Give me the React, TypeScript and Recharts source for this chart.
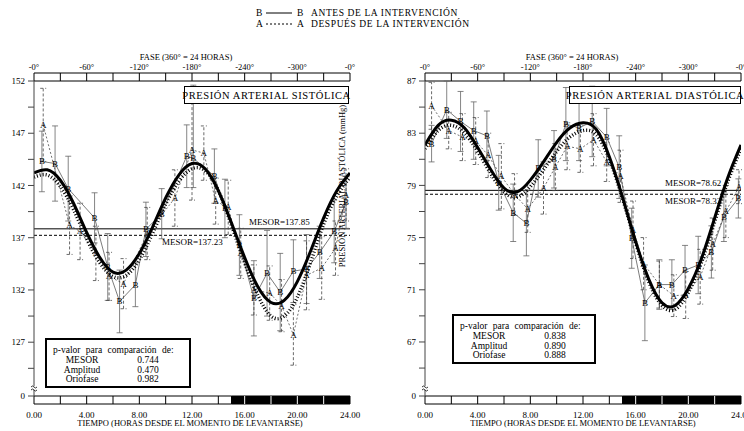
import { ComposedChart, Line, XAxis, YAxis, ErrorBar, ReferenceLine, ReferenceArea } from "recharts";

const SERIF = "Liberation Serif, serif";

// fitted curves at every hour
const FIT_HOURS = [0, 1, 2, 3, 4, 5, 6, 7, 8, 9, 10, 11, 12, 13, 14, 15, 16, 17, 18, 19, 20, 21, 22, 23, 24];
const SYS_FIT_B = [143.2, 143.5, 142.5, 140.3, 137.5, 135.1, 133.7, 133.9, 135.5, 138.0, 140.8, 143.0, 144.1, 143.6, 141.5, 138.4, 135.1, 132.3, 130.8, 131.0, 132.8, 135.7, 138.9, 141.5, 143.2];
const SYS_FIT_A = [142.8, 143.0, 141.9, 139.7, 136.9, 134.6, 133.3, 133.4, 134.9, 137.4, 140.2, 142.4, 143.6, 143.4, 141.5, 138.2, 134.6, 131.5, 129.5, 129.5, 131.3, 134.6, 138.3, 141.0, 142.8];
const DIA_FIT_B = [82.1, 83.6, 84.0, 83.4, 81.9, 80.2, 78.8, 78.5, 79.4, 80.8, 82.3, 83.4, 83.8, 83.3, 81.2, 78.1, 74.7, 71.8, 70.0, 69.8, 71.1, 73.4, 76.5, 79.6, 82.1];
const DIA_FIT_A = [81.8, 83.2, 83.6, 83.0, 81.6, 79.9, 78.5, 78.1, 78.9, 80.2, 81.6, 82.7, 83.2, 82.9, 81.0, 78.0, 74.6, 71.6, 69.8, 69.5, 70.8, 73.1, 76.2, 79.3, 81.8];

// hourly means +- error, systolic
const SYS_B_HOURS = [0.6, 1.6, 2.6, 4.6, 5.6, 6.5, 7.7, 8.5, 9.7, 11.6, 12.1, 13.7, 14.5, 15.6, 16.7, 17.7, 18.7, 19.7, 20.7, 21.7, 22.8, 23.7];
const SYS_B_MEANS = [144.3, 144.1, 141.7, 138.9, 134.2, 130.9, 132.5, 137.8, 139.3, 144.8, 144.6, 142.9, 139.8, 136.3, 131.2, 133.6, 131.8, 133.8, 134.0, 135.6, 137.6, 140.4];
const SYS_B_ERR: (number | number[])[] = [2.9, 3.6, 3.1, 2.4, 3.2, 3.0, 2.1, 2.6, 2.4, 3.0, [2.8, 7.0], 2.6, 2.8, 2.9, 3.6, 4.1, 3.7, 3.0, 3.3, 2.5, 3.0, 2.5];
const SYS_A_HOURS = [0.7, 2.7, 3.5, 4.7, 5.7, 6.8, 8.6, 10.7, 12.0, 12.9, 13.8, 14.75, 15.7, 16.7, 17.9, 18.8, 19.7, 20.7, 21.85, 22.9, 23.7];
const SYS_A_MEANS = [147.8, 138.2, 137.6, 135.5, 133.3, 132.6, 137.4, 140.8, 145.4, 145.1, 140.5, 139.9, 135.5, 132.0, 131.7, 130.5, 127.7, 133.4, 134.1, 136.0, 141.1];
const SYS_A_ERR = [3.5, 2.8, 2.7, 2.6, 2.3, 2.4, 2.5, 2.7, 4.8, 2.6, 2.2, 2.6, 2.4, 2.4, 2.6, 2.5, 2.9, 3.3, 3.0, 2.6, 2.5];

// hourly means +- error, diastolic
const DIA_B_HOURS = [0.5, 1.65, 2.7, 3.7, 4.7, 5.6, 6.7, 7.7, 8.6, 9.8, 10.7, 11.7, 12.7, 13.8, 14.75, 15.7, 16.7, 17.8, 18.75, 19.75, 20.75, 21.75, 22.7, 23.8];
const DIA_B_MEANS = [82.2, 84.8, 83.9, 83.2, 82.8, 79.2, 76.9, 76.1, 80.3, 81.0, 83.7, 83.4, 83.9, 82.7, 80.4, 74.95, 70.0, 71.4, 71.4, 72.5, 72.9, 73.9, 76.6, 78.0];
const DIA_B_ERR = [1.4, 2.2, 2.3, 2.2, 1.9, 2.1, 2.2, 2.5, 2.2, 2.2, 2.8, 2.5, 2.7, 2.2, 2.4, 2.3, 2.9, 1.9, 1.9, 1.9, 2.2, 2.0, 1.9, 1.5];
const DIA_A_HOURS = [0.5, 1.8, 2.85, 3.85, 4.8, 5.8, 6.8, 7.8, 9.0, 9.9, 10.8, 11.8, 12.8, 13.8, 14.85, 15.8, 16.6, 17.8, 18.9, 19.8, 20.9, 21.85, 22.85, 23.85];
const DIA_A_MEANS = [85.1, 83.2, 82.7, 82.4, 81.3, 79.7, 78.3, 77.2, 78.8, 80.4, 82.0, 81.8, 82.5, 80.8, 79.7, 75.6, 73.0, 71.4, 70.55, 70.6, 72.0, 74.5, 77.0, 78.9];
const DIA_A_ERR = [1.8, 1.4, 1.8, 1.8, 1.7, 2.5, 1.6, 1.8, 2.0, 1.8, 1.8, 1.8, 2.0, 1.5, 2.0, 2.2, 2.0, 1.8, 1.6, 1.8, 2.1, 2.0, 2.0, 1.3];

const SYS_Y_TICKS = [121.85, 124.5, 127, 129.5, 132, 134.5, 137, 139.5, 142, 144.5, 147, 149.5, 152];
const SYS_Y_MAJOR = [127, 132, 137, 142, 147, 152];
const DIA_Y_TICKS = [62.86, 65, 67, 69, 71, 73, 75, 77, 79, 81, 83, 85, 87];
const DIA_Y_MAJOR = [67, 71, 75, 79, 83, 87];

const TIME_TICKS = [0, 4, 8, 12, 16, 20, 24];
const PHASE_LABELS = ["-0°", "-60°", "-120°", "-180°", "-240°", "-300°", "-0°"];
const BAR_TICKS = [2, 4, 6, 8, 10, 12, 14, 16, 18, 20, 22];
const NIGHT_START = 15;

const PLOT_TOP = 81;
const PLOT_H = 315;
const PLOT_W = 316;

const toPts = (hours: number[], means: number[], errs: (number | number[])[]) =>
  hours.map((h, i) => ({ h, v: means[i], e: errs[i] }));
const toFit = (vals: number[]) => FIT_HOURS.map((h, i) => ({ h, v: vals[i] }));

const PANELS = [
  {
    left: 0, yAxisWidth: 34, marginRight: 22,
    yMin: 121.85, yMax: 152, yTicks: SYS_Y_TICKS, yMajor: SYS_Y_MAJOR,
    fitB: toFit(SYS_FIT_B), fitA: toFit(SYS_FIT_A),
    ptsB: toPts(SYS_B_HOURS, SYS_B_MEANS, SYS_B_ERR), ptsA: toPts(SYS_A_HOURS, SYS_A_MEANS, SYS_A_ERR),
    mesorB: 137.85, mesorA: 137.23,
  },
  {
    left: 372, yAxisWidth: 53, marginRight: 3,
    yMin: 62.86, yMax: 87, yTicks: DIA_Y_TICKS, yMajor: DIA_Y_MAJOR,
    fitB: toFit(DIA_FIT_B), fitA: toFit(DIA_FIT_A),
    ptsB: toPts(DIA_B_HOURS, DIA_B_MEANS, DIA_B_ERR), ptsA: toPts(DIA_A_HOURS, DIA_A_MEANS, DIA_A_ERR),
    mesorB: 78.62, mesorA: 78.32,
  },
];

const TICK = { fontSize: 9, fontFamily: SERIF, fill: "#000" };

const letterDot = (ch: string) => (p: any) => (
  <text key={`${ch}-${p.index}`} x={p.cx} y={p.cy + 3} textAnchor="middle" fontSize={9} style={{ fontFamily: SERIF }} fill="#000">
    {ch}
  </text>
);

function Panel({ cfg }: { cfg: (typeof PANELS)[number] }) {
  const unitsPerPx = (cfg.yMax - cfg.yMin) / PLOT_H;
  const barU = 8 * unitsPerPx;
  const top = cfg.yMax;
  const bot = cfg.yMin;
  return (
    <div style={{ position: "absolute", left: cfg.left, top: 0 }}>
      <ComposedChart width={372} height={431} margin={{ top: PLOT_TOP, right: cfg.marginRight, bottom: 0, left: 0 }} style={{ fontFamily: SERIF }}>
        <XAxis
          type="number" dataKey="h" domain={[0, 24]} ticks={TIME_TICKS} interval={0}
          tickFormatter={(v: number) => v.toFixed(2)} height={35}
          axisLine={false} tickLine={false} tickMargin={10} tick={TICK} allowDataOverflow
        />
        <YAxis
          type="number" domain={[cfg.yMin, cfg.yMax]} ticks={cfg.yTicks} interval={0} width={cfg.yAxisWidth}
          tickFormatter={(v: number) => (v === cfg.yMin ? "0" : cfg.yMajor.includes(v) ? String(v) : "")}
          axisLine={{ stroke: "#444" }} tickLine={{ stroke: "#444" }} tickSize={6} tickMargin={3} tick={TICK} allowDataOverflow
        />

        {/* phase bar on top, day/night bar at the bottom */}
        <ReferenceArea x1={0} x2={24} y1={top} y2={top + barU} fill="#fff" fillOpacity={1} stroke="#000" ifOverflow="visible" />
        <ReferenceArea x1={0} x2={NIGHT_START} y1={bot - barU} y2={bot} fill="#fff" fillOpacity={1} stroke="#000" ifOverflow="visible" />
        <ReferenceArea x1={NIGHT_START} x2={24} y1={bot - barU} y2={bot} fill="#000" fillOpacity={1} stroke="#000" ifOverflow="visible" />
        {BAR_TICKS.map((t) => (
          <ReferenceLine key={`pt${t}`} segment={[{ x: t, y: top }, { x: t, y: top + barU }]} stroke="#000" ifOverflow="visible" />
        ))}
        {BAR_TICKS.map((t) => (
          <ReferenceLine key={`bt${t}`} segment={[{ x: t, y: bot - barU }, { x: t, y: bot }]} stroke={t > NIGHT_START ? "#fff" : "#000"} ifOverflow="visible" />
        ))}

        <ReferenceLine y={cfg.mesorB} stroke="#000" strokeWidth={1} />
        <ReferenceLine y={cfg.mesorA} stroke="#000" strokeWidth={1} strokeDasharray="3 2" />

        <Line data={cfg.ptsB} dataKey="v" type="linear" stroke="#444" strokeWidth={0.7} dot={letterDot("B")} activeDot={false} isAnimationActive={false}>
          <ErrorBar dataKey="e" width={3} stroke="#666" strokeWidth={0.8} direction="y" />
        </Line>
        <Line data={cfg.ptsA} dataKey="v" type="linear" stroke="#333" strokeWidth={0.7} strokeDasharray="2 2" dot={letterDot("A")} activeDot={false} isAnimationActive={false}>
          <ErrorBar dataKey="e" width={3} stroke="#444" strokeWidth={0.8} strokeDasharray="3 2" direction="y" />
        </Line>

        <Line data={cfg.fitA} dataKey="v" type="natural" stroke="#000" strokeWidth={3.5} strokeDasharray="1 2" dot={false} activeDot={false} isAnimationActive={false} />
        <Line data={cfg.fitB} dataKey="v" type="natural" stroke="#000" strokeWidth={3} dot={false} activeDot={false} isAnimationActive={false} />
      </ComposedChart>
    </div>
  );
}

const yPx = (cfg: (typeof PANELS)[number], v: number) => PLOT_TOP + ((cfg.yMax - v) / (cfg.yMax - cfg.yMin)) * PLOT_H;
const xPx = (cfg: (typeof PANELS)[number], h: number) => cfg.left + cfg.yAxisWidth + (h / 24) * PLOT_W;

const P_ROWS = [
  ["MESOR", "0.744", "0.838"],
  ["Amplitud", "0.470", "0.890"],
  ["Oriofase", "0.982", "0.888"],
];

export default function App() {
  const [sys, dia] = PANELS;
  const txt = { fill: "#000", style: { fontFamily: SERIF } };
  return (
    <div style={{ position: "absolute", left: 0, top: 0, width: 744, height: 431, background: "#fff", fontFamily: SERIF }}>
      {PANELS.map((p, i) => (
        <Panel key={i} cfg={p} />
      ))}
      <svg width={744} height={431} style={{ position: "absolute", left: 0, top: 0, pointerEvents: "none", fontFamily: SERIF }}>
        {/* legend */}
        <g fontSize={9.5} {...txt}>
          <text x={256} y={16}>B</text>
          <line x1={266} x2={292} y1={13} y2={13} stroke="#000" />
          <text x={297} y={16}>B</text>
          <text x={311} y={16} letterSpacing={0.6}>ANTES DE LA INTERVENCIÓN</text>
          <text x={256} y={27}>A</text>
          <line x1={266} x2={292} y1={24} y2={24} stroke="#000" strokeDasharray="2 2" />
          <text x={297} y={27}>A</text>
          <text x={311} y={27} letterSpacing={0.6}>DESPUÉS DE LA INTERVENCIÓN</text>
        </g>

        {/* phase labels */}
        {PANELS.map((p) =>
          TIME_TICKS.map((h, i) => (
            <text key={`${p.left}-${h}`} x={xPx(p, h)} y={70} textAnchor="middle" fontSize={8.5} {...txt}>
              {PHASE_LABELS[i]}
            </text>
          ))
        )}

        {/* axis breaks */}
        {PANELS.map((p) => {
          const x = p.left + p.yAxisWidth;
          return (
            <g key={`brk${p.left}`} stroke="#000" strokeWidth={0.8} fill="none">
              <rect x={x - 3} y={386} width={6} height={4} fill="#fff" stroke="none" />
              <path d={`M${x - 3},387 q1.5,-2 3,0 t3,0`} />
              <path d={`M${x - 3},390 q1.5,-2 3,0 t3,0`} />
            </g>
          );
        })}

        {/* axis titles */}
        <g fontSize={8.5} {...txt} textAnchor="middle">
          <text x={186} y={60}>FASE (360° = 24 HORAS)</text>
          <text x={572} y={60}>FASE (360° = 24 HORAS)</text>
          <text x={190} y={426}>TIEMPO (HORAS DESDE EL MOMENTO DE LEVANTARSE)</text>
          <text x={583} y={426}>TIEMPO (HORAS DESDE EL MOMENTO DE LEVANTARSE)</text>
          <text transform="translate(345,186) rotate(-90)">PRESIÓN ARTERIAL DIASTÓLICA (mmHg)</text>
        </g>

        {/* panel titles */}
        <rect x={184.5} y={86.5} width={164} height={17} fill="#fff" stroke="#000" />
        <text x={266.5} y={98.5} textAnchor="middle" fontSize={10.5} letterSpacing={0.6} {...txt}>PRESIÓN ARTERIAL SISTÓLICA</text>
        <rect x={569.5} y={86.5} width={171} height={17} fill="#fff" stroke="#000" />
        <text x={655} y={98.5} textAnchor="middle" fontSize={10.5} letterSpacing={0.6} {...txt}>PRESIÓN ARTERIAL DIASTÓLICA</text>

        {/* MESOR labels */}
        <g fontSize={9} {...txt}>
          <text x={249} y={yPx(sys, sys.mesorB) - 4}>MESOR=137.85</text>
          <text x={162} y={yPx(sys, sys.mesorA) + 10}>MESOR=137.23</text>
          <text x={665} y={yPx(dia, dia.mesorB) - 4}>MESOR=78.62</text>
          <text x={665} y={yPx(dia, dia.mesorA) + 10}>MESOR=78.32</text>
        </g>

        {/* p-value boxes */}
        {[
          { x: 46, y: 339, w: 144, col: 1 },
          { x: 453, y: 315, w: 142, col: 2 },
        ].map((b) => (
          <g key={b.x} fontSize={9.5} {...txt}>
            <rect x={b.x} y={b.y} width={b.w} height={48} fill="#fff" stroke="#000" strokeWidth={2} />
            <text x={b.x + 7} y={b.y + 14} wordSpacing={3}>p-valor para comparación de:</text>
            {P_ROWS.map((r, i) => (
              <g key={r[0]}>
                <text x={b.x + 36} y={b.y + 24 + i * 9.5} textAnchor="middle">{r[0]}</text>
                <text x={b.x + 102} y={b.y + 24 + i * 9.5} textAnchor="middle">{r[b.col]}</text>
              </g>
            ))}
          </g>
        ))}
      </svg>
    </div>
  );
}
